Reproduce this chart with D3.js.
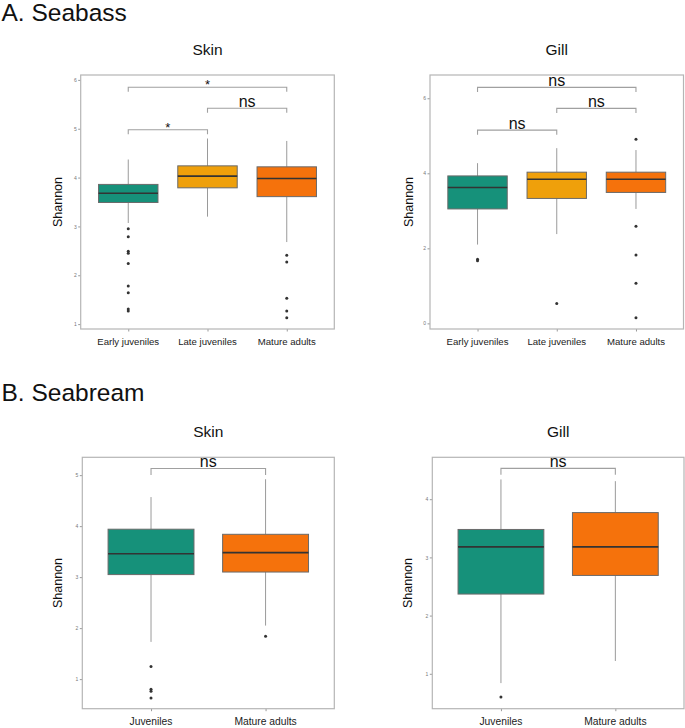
<!DOCTYPE html>
<html>
<head>
<meta charset="utf-8">
<script src="https://cdn.jsdelivr.net/npm/d3@7"></script>
<style>
  html, body { margin: 0; padding: 0; background: #fff; }
  svg { display: block; font-family: "Liberation Sans", Arial, sans-serif; }
</style>
</head>
<body>
<svg id="chart" width="685" height="728"></svg>
<script>
// ---------------- DATA ----------------
const seabassGroups = ["Early juveniles", "Late juveniles", "Mature adults"];
const seabreamGroups = ["Juveniles", "Mature adults"];

// Seabass skin
const sbSkinLow    = [3.07, 3.20, 2.68];
const sbSkinQ1     = [3.49, 3.79, 3.61];
const sbSkinMedian = [3.68, 4.03, 3.98];
const sbSkinQ3     = [3.86, 4.24, 4.22];
const sbSkinHigh   = [4.37, 4.80, 4.75];
const sbSkinOutliers = [
  [2.95, 2.79, 2.49, 2.45, 2.24, 1.78, 1.64, 1.31, 1.27],
  [],
  [2.41, 2.27, 1.53, 1.27, 1.13]
];
const sbSkinTicks = [1, 2, 3, 4, 5, 6];
const sbSkinBrackets = [
  { a: 0, b: 2, y: 5.85, label: "*" },
  { a: 1, b: 2, y: 5.42, label: "ns" },
  { a: 0, b: 1, y: 4.98, label: "*" }
];

// Seabass gill
const sbGillLow    = [2.10, 2.38, 3.05];
const sbGillQ1     = [3.05, 3.33, 3.49];
const sbGillMedian = [3.62, 3.84, 3.84];
const sbGillQ3     = [3.93, 4.03, 4.03];
const sbGillHigh   = [4.27, 4.67, 4.62];
const sbGillOutliers = [
  [1.71, 1.67],
  [0.53],
  [4.91, 2.59, 1.82, 1.07, 0.15]
];
const sbGillTicks = [0, 2, 4, 6];
const sbGillBrackets = [
  { a: 0, b: 2, y: 6.29, label: "ns" },
  { a: 1, b: 2, y: 5.73, label: "ns" },
  { a: 0, b: 1, y: 5.15, label: "ns" }
];

// Seabream skin
const srSkinLow    = [1.73, 2.05];
const srSkinQ1     = [3.05, 3.10];
const srSkinMedian = [3.46, 3.48];
const srSkinQ3     = [3.94, 3.84];
const srSkinHigh   = [4.57, 4.92];
const srSkinOutliers = [
  [1.25, 0.80, 0.76, 0.63],
  [1.84]
];
const srSkinTicks = [1, 2, 3, 4, 5];
const srSkinBrackets = [ { a: 0, b: 1, y: 5.13, label: "ns" } ];

// Seabream gill
const srGillLow    = [0.84, 1.22];
const srGillQ1     = [2.37, 2.69];
const srGillMedian = [3.18, 3.18];
const srGillQ3     = [3.48, 3.77];
const srGillHigh   = [4.34, 4.31];
const srGillOutliers = [
  [0.60],
  []
];
const srGillTicks = [1, 2, 3, 4];
const srGillBrackets = [ { a: 0, b: 1, y: 4.53, label: "ns" } ];

const colors3 = ["#16917A", "#EFA00B", "#F5720C"];
const colors2 = ["#16917A", "#F5720C"];

// ---------------- DRAW ----------------
const svg = d3.select("#chart");

svg.append("text").attr("x", 1.5).attr("y", 21).attr("font-size", 24.5).attr("fill", "#111").text("A. Seabass");
svg.append("text").attr("x", 1.5).attr("y", 401).attr("font-size", 24.5).attr("fill", "#111").text("B. Seabream");

function panel(cfg) {
  const g = svg.append("g");
  const { x0, x1, y0, y1 } = cfg.box;
  const x = d3.scalePoint().domain(cfg.groups).range([x0, x1]).padding(0.6);
  const y = d3.scaleLinear().domain(cfg.ydomain).range([y1, y0]);
  const bw = x.step() * 0.75;

  // title
  g.append("text").attr("x", (x0 + x1) / 2).attr("y", cfg.titleY)
    .attr("text-anchor", "middle").attr("font-size", 15.5).attr("fill", "#111").text(cfg.title);

  // y label
  g.append("text")
    .attr("transform", `translate(${cfg.ylabX},${(y0 + y1) / 2}) rotate(-90)`)
    .attr("text-anchor", "middle").attr("dy", "0.35em")
    .attr("font-size", 12.5).attr("fill", "#111").text("Shannon");

  // y axis
  const ya = g.append("g").attr("transform", `translate(${x0},0)`)
    .call(d3.axisLeft(y).tickValues(cfg.ticks).tickSize(2.5).tickPadding(1.5).tickFormat(d3.format("d")));
  ya.select(".domain").remove();
  ya.selectAll("line").attr("stroke", "#999");
  ya.selectAll("text").attr("font-size", 5).attr("fill", "#777").attr("font-family", "Liberation Sans, Arial, sans-serif");

  // x axis ticks
  const xa = g.append("g").attr("transform", `translate(0,${y1})`)
    .call(d3.axisBottom(x).tickSize(2.5).tickFormat(""));
  xa.select(".domain").remove();
  xa.selectAll("line").attr("stroke", "#999");

  // x labels
  g.selectAll(".xl").data(cfg.groups).enter().append("text")
    .attr("x", d => x(d)).attr("y", cfg.xlabY)
    .attr("text-anchor", "middle").attr("font-size", cfg.xlabSize).attr("fill", "#222").text(d => d);

  // boxes
  cfg.groups.forEach((grp, i) => {
    const cx = x(grp);
    g.append("line").attr("x1", cx).attr("x2", cx).attr("y1", y(cfg.high[i])).attr("y2", y(cfg.q3[i]))
      .attr("stroke", "#9a9a9a").attr("stroke-width", 1);
    g.append("line").attr("x1", cx).attr("x2", cx).attr("y1", y(cfg.q1[i])).attr("y2", y(cfg.low[i]))
      .attr("stroke", "#9a9a9a").attr("stroke-width", 1);
    g.append("rect").attr("x", cx - bw / 2).attr("width", bw)
      .attr("y", y(cfg.q3[i])).attr("height", y(cfg.q1[i]) - y(cfg.q3[i]))
      .attr("fill", cfg.colors[i]).attr("stroke", "#6a6a6a").attr("stroke-width", 1);
    g.append("line").attr("x1", cx - bw / 2).attr("x2", cx + bw / 2)
      .attr("y1", y(cfg.median[i])).attr("y2", y(cfg.median[i]))
      .attr("stroke", "#333").attr("stroke-width", 1.6);
    g.selectAll(null).data(cfg.outliers[i]).enter().append("circle")
      .attr("cx", cx).attr("cy", d => y(d)).attr("r", 1.5).attr("fill", "#333");
  });

  // panel border
  g.append("rect").attr("x", x0).attr("y", y0).attr("width", x1 - x0).attr("height", y1 - y0)
    .attr("fill", "none").attr("stroke", "#b5b5b5").attr("stroke-width", 1.2);

  // brackets
  cfg.brackets.forEach(br => {
    const xa_ = x(cfg.groups[br.a]), xb = x(cfg.groups[br.b]), yy = y(br.y);
    g.append("path")
      .attr("d", `M${xa_},${yy + cfg.tip}V${yy}H${xb}V${yy + cfg.tip}`)
      .attr("fill", "none").attr("stroke", "#a0a0a0").attr("stroke-width", 1.1);
    const star = br.label === "*";
    g.append("text").attr("x", (xa_ + xb) / 2)
      .attr("y", star ? yy + 2 : yy - 1.5)
      .attr("text-anchor", "middle")
      .attr("font-size", star ? 13 : 16).attr("fill", "#111").text(br.label);
  });
}

panel({
  title: "Skin", groups: seabassGroups, colors: colors3,
  box: { x0: 80.7, x1: 334.3, y0: 75, y1: 329 }, ydomain: [0.90, 6.10], ticks: sbSkinTicks,
  low: sbSkinLow, q1: sbSkinQ1, median: sbSkinMedian, q3: sbSkinQ3, high: sbSkinHigh, outliers: sbSkinOutliers,
  brackets: sbSkinBrackets, tip: 4.5, titleY: 55.3, ylabX: 57.3, xlabY: 345, xlabSize: 9.6
});
panel({
  title: "Gill", groups: seabassGroups, colors: colors3,
  box: { x0: 430, x1: 683.5, y0: 75, y1: 329 }, ydomain: [-0.15, 6.62], ticks: sbGillTicks,
  low: sbGillLow, q1: sbGillQ1, median: sbGillMedian, q3: sbGillQ3, high: sbGillHigh, outliers: sbGillOutliers,
  brackets: sbGillBrackets, tip: 4.5, titleY: 55.3, ylabX: 408.3, xlabY: 345, xlabSize: 9.6
});
panel({
  title: "Skin", groups: seabreamGroups, colors: colors2,
  box: { x0: 82.3, x1: 334.3, y0: 457.3, y1: 708.7 }, ydomain: [0.42, 5.35], ticks: srSkinTicks,
  low: srSkinLow, q1: srSkinQ1, median: srSkinMedian, q3: srSkinQ3, high: srSkinHigh, outliers: srSkinOutliers,
  brackets: srSkinBrackets, tip: 6.5, titleY: 437.3, ylabX: 57.3, xlabY: 725, xlabSize: 10.3
});
panel({
  title: "Gill", groups: seabreamGroups, colors: colors2,
  box: { x0: 432.3, x1: 684, y0: 457.3, y1: 708.7 }, ydomain: [0.40, 4.72], ticks: srGillTicks,
  low: srGillLow, q1: srGillQ1, median: srGillMedian, q3: srGillQ3, high: srGillHigh, outliers: srGillOutliers,
  brackets: srGillBrackets, tip: 6.5, titleY: 437.3, ylabX: 407.7, xlabY: 725, xlabSize: 10.3
});
</script>
</body>
</html>
